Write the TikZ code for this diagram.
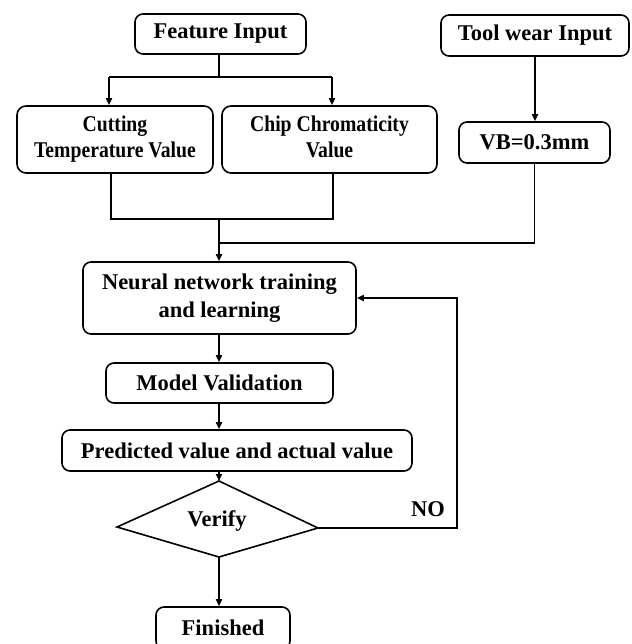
\documentclass[tikz,border=0pt]{standalone}
\usepackage{fontspec}
\setmainfont{Liberation Serif}
\usetikzlibrary{arrows.meta}
\newcommand{\narrowtwo}[2]{\scalebox{0.875}[1]{\begin{tabular}{@{}c@{}}#1\\#2\end{tabular}}}
\begin{document}
\begin{tikzpicture}[x=1pt,y=-1pt,
 box/.style={draw, line width=1.6pt, rounded corners=8pt, inner sep=0pt, align=center, font=\bfseries\fontsize{22.5}{28}\selectfont},
 sbox/.style={box, rounded corners=9pt, font=\bfseries\fontsize{22.5}{26}\selectfont},
 ln/.style={line width=1.6pt},
 arr/.style={ln, -{Triangle[length=7pt,width=6pt]}},
 lbl/.style={inner sep=0pt, font=\bfseries\fontsize{22.5}{28}\selectfont}]
\useasboundingbox (0,0) rectangle (631,644);
\clip (0,0) rectangle (631,644);
% nodes
\node[box, minimum width=171pt, minimum height=40pt] (fi) at (220.5,34) {Feature Input};
\node[box, minimum width=188pt, minimum height=41pt] (tw) at (535,35.5) {Tool wear Input};
\node[sbox, minimum width=196pt, minimum height=67pt] (cut) at (115,139.5) {\narrowtwo{Cutting}{Temperature Value}};
\node[sbox, minimum width=215pt, minimum height=67pt] (chip) at (329.5,139.5) {\narrowtwo{Chip Chromaticity}{Value}};
\node[box, minimum width=151pt, minimum height=41pt] (vb) at (534.5,142.5) {VB=0.3mm};
\node[box, minimum width=273pt, minimum height=72pt] (nn) at (219.5,298) {Neural network training\\and learning};
\node[box, minimum width=227pt, minimum height=40pt] (mv) at (219.5,383) {Model Validation};
\node[box, minimum width=350pt, minimum height=41pt] (pred) at (237,450.5) {Predicted value and actual value};
\node[box, minimum width=134pt, minimum height=42pt] (fin) at (223,628) {Finished};
% diamond
\coordinate (dt) at (219,481);
\coordinate (dl) at (117,527);
\coordinate (dr) at (318,528);
\coordinate (db) at (219,557);
\draw[ln, line join=miter] (dt) -- (dr) -- (db) -- (dl) -- cycle;
\node[lbl, anchor=base] (ver) at (217,526) {Verify};
\node[lbl, anchor=base] (no) at (428,516) {NO};
% junctions
\coordinate (split) at (219,77);
\coordinate (sl) at (109,77);
\coordinate (sr) at (332,77);
\coordinate (ml) at (111,219);
\coordinate (mr) at (333,219);
\coordinate (mc) at (219,219);
\coordinate (vj) at (219,243);
\coordinate (fb) at (457,528);
% connectors
\draw[ln] (fi.south -| split) -- (split);
\draw[ln] (sl) -- (sr);
\draw[arr] (sl) -- (sl |- cut.north);
\draw[arr] (sr) -- (sr |- chip.north);
\draw[arr] (tw.south) -- (tw.south |- vb.north);
\draw[ln] (ml |- cut.south) -- (ml) -- (mr) -- (mr |- chip.south);
\draw[arr] (mc) -- (mc |- nn.north);
\draw[ln] (vb.south) -- (vb.south |- vj) -- (vj);
\draw[arr] (nn.south -| mc) -- (mc |- mv.north);
\draw[arr] (mv.south -| mc) -- (mc |- pred.north);
\draw[arr] (dt |- pred.south) -- (dt);
\draw[arr] (db) -- (db |- fin.north);
\draw[arr] (dr) -- (fb) |- (nn.east);
\end{tikzpicture}
\end{document}
